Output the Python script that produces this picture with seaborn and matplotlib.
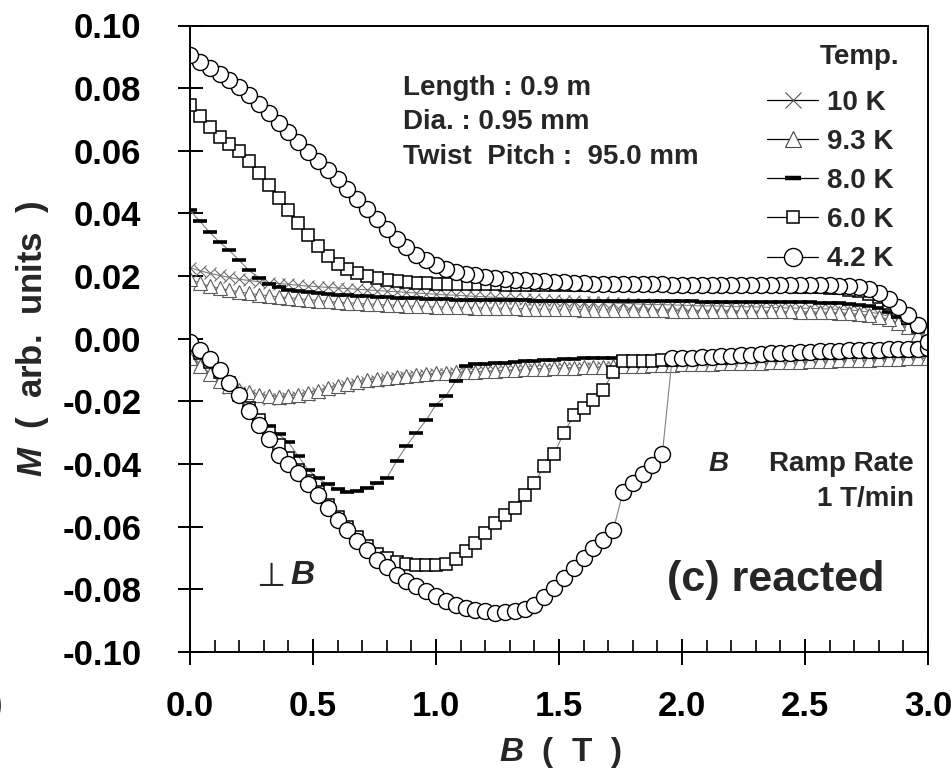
import numpy as np
import pandas as pd
import matplotlib
matplotlib.use("Agg")
import matplotlib.pyplot as plt
from matplotlib.lines import Line2D
from matplotlib.ticker import MultipleLocator
import seaborn as sns

# ---------------- data ----------------
B_T = [0.00, 0.04, 0.08, 0.12, 0.16, 0.20, 0.24, 0.28, 0.32, 0.36,
       0.40, 0.44, 0.48, 0.52, 0.56, 0.60, 0.64, 0.68, 0.72, 0.76,
       0.80, 0.84, 0.88, 0.92, 0.96, 1.00, 1.04, 1.08, 1.12, 1.16,
       1.20, 1.24, 1.28, 1.32, 1.36, 1.40, 1.44, 1.48, 1.52, 1.56,
       1.60, 1.64, 1.68, 1.72, 1.76, 1.80, 1.84, 1.88, 1.92, 1.96,
       2.00, 2.04, 2.08, 2.12, 2.16, 2.20, 2.24, 2.28, 2.32, 2.36,
       2.40, 2.44, 2.48, 2.52, 2.56, 2.60, 2.64, 2.68, 2.72, 2.76,
       2.80, 2.84, 2.88, 2.92, 2.96, 3.00]

# ramp up (0 -> 3 T), values at B_T
M10_up = [-0.005, -0.0082, -0.0112, -0.0137, -0.0156, -0.017, -0.018, -0.0187, -0.0191, -0.0192,
          -0.019, -0.0185, -0.0179, -0.0172, -0.0165, -0.0158, -0.0151, -0.0145, -0.0139, -0.0134,
          -0.0129, -0.0125, -0.0121, -0.0118, -0.0115, -0.0113, -0.0111, -0.0109, -0.0107, -0.0106,
          -0.0104, -0.0103, -0.0101, -0.01, -0.0099, -0.0097, -0.0096, -0.0095, -0.0094, -0.0094,
          -0.0093, -0.0092, -0.0091, -0.009, -0.009, -0.0089, -0.0088, -0.0087, -0.0087, -0.0086,
          -0.0085, -0.0084, -0.0084, -0.0083, -0.0082, -0.0081, -0.0081, -0.008, -0.0079, -0.0078,
          -0.0077, -0.0077, -0.0076, -0.0075, -0.0074, -0.0073, -0.0072, -0.0071, -0.007, -0.0069,
          -0.0068, -0.0067, -0.0066, -0.0065, -0.0064, -0.0062]
M93_up = [-0.006, -0.0088, -0.0114, -0.0136, -0.0152, -0.0163, -0.0171, -0.0178, -0.0183, -0.0186,
          -0.0184, -0.0179, -0.0173, -0.0166, -0.0158, -0.015, -0.0144, -0.0138, -0.0132, -0.0128,
          -0.0124, -0.0121, -0.0118, -0.0115, -0.0112, -0.011, -0.0108, -0.0107, -0.0106, -0.0105,
          -0.0104, -0.0102, -0.01, -0.0099, -0.0097, -0.0096, -0.0095, -0.0094, -0.0093, -0.0092,
          -0.0091, -0.009, -0.0089, -0.0088, -0.0087, -0.0087, -0.0086, -0.0085, -0.0084, -0.0083,
          -0.0082, -0.0081, -0.0081, -0.008, -0.0079, -0.0078, -0.0077, -0.0077, -0.0076, -0.0075,
          -0.0074, -0.0073, -0.0073, -0.0072, -0.0071, -0.007, -0.0069, -0.0069, -0.0068, -0.0067,
          -0.0066, -0.0065, -0.0064, -0.0063, -0.0062, -0.006]
M80_up = [-0.002, -0.0045, -0.0075, -0.0105, -0.014, -0.018, -0.022, -0.0255, -0.028, -0.0304,
          -0.033, -0.0375, -0.0418, -0.0445, -0.0465, -0.048, -0.0489, -0.0485, -0.0477, -0.0462,
          -0.0445, -0.039, -0.0342, -0.030, -0.026, -0.021, -0.0183, -0.0135, -0.0088, -0.0082,
          -0.008, -0.0078, -0.0076, -0.0074, -0.0072, -0.007, -0.0069, -0.0068, -0.0066, -0.0065,
          -0.0063, -0.0062, -0.0061, -0.006, -0.0059, -0.0058, -0.0058, -0.0057, -0.0057, -0.0056,
          -0.0056, -0.0056, -0.0055, -0.0055, -0.0054, -0.0054, -0.0053, -0.0053, -0.0052, -0.0052,
          -0.0051, -0.0051, -0.005, -0.005, -0.0049, -0.0048, -0.0047, -0.0046, -0.0046, -0.0045,
          -0.0044, -0.0043, -0.0042, -0.0042, -0.0041, -0.004]
M60_up = [-0.002, -0.0045, -0.0075, -0.0106, -0.014, -0.018, -0.022, -0.026, -0.030, -0.034,
          -0.038, -0.042, -0.0455, -0.049, -0.053, -0.057, -0.0602, -0.0634, -0.0662, -0.0686,
          -0.070, -0.0712, -0.0718, -0.0721, -0.0722, -0.0722, -0.0718, -0.0702, -0.0678, -0.0652,
          -0.062, -0.0588, -0.0562, -0.054, -0.050, -0.046, -0.0405, -0.0368, -0.030, -0.0245,
          -0.022, -0.0195, -0.0165, -0.0105, -0.0072, -0.007, -0.007, -0.007, -0.0069, -0.0068,
          -0.0066, -0.0065, -0.0063, -0.0061, -0.006, -0.0058, -0.0056, -0.0055, -0.0053, -0.0052,
          -0.005, -0.0049, -0.0048, -0.0047, -0.0046, -0.0045, -0.0044, -0.0043, -0.0043, -0.0042,
          -0.0041, -0.004, -0.0039, -0.0038, -0.0037, -0.0036]
M42_up = [-0.001, -0.0035, -0.0065, -0.010, -0.014, -0.018, -0.023, -0.0275, -0.032, -0.037,
          -0.040, -0.043, -0.0465, -0.050, -0.054, -0.058, -0.0612, -0.0645, -0.0675, -0.0705,
          -0.073, -0.0755, -0.0772, -0.0788, -0.0804, -0.082, -0.0836, -0.085, -0.086, -0.0866,
          -0.087, -0.0874, -0.0872, -0.0868, -0.0862, -0.085, -0.0826, -0.0796, -0.0764, -0.0732,
          -0.070, -0.0668, -0.0642, -0.0612, -0.049, -0.0462, -0.0432, -0.0402, -0.0368, -0.006,
          -0.0062, -0.006, -0.0059, -0.0057, -0.0056, -0.0054, -0.0052, -0.0051, -0.0049, -0.0047,
          -0.0046, -0.0044, -0.0043, -0.0041, -0.004, -0.0039, -0.0038, -0.0037, -0.0037, -0.0036,
          -0.0035, -0.0034, -0.0033, -0.0033, -0.0032, -0.003]

# ramp down (3 -> 0 T), values listed at B_T (ascending B)
M10_down = [0.0227, 0.0217, 0.0209, 0.0202, 0.0196, 0.019, 0.0186, 0.0182, 0.0179, 0.0176,
            0.0174, 0.0171, 0.0168, 0.0166, 0.0164, 0.0162, 0.016, 0.0158, 0.0156, 0.0154,
            0.0152, 0.015, 0.0148, 0.0146, 0.0144, 0.0142, 0.014, 0.0139, 0.0137, 0.0135,
            0.0134, 0.0132, 0.0131, 0.0129, 0.0127, 0.0126, 0.0124, 0.0123, 0.0122, 0.012,
            0.0118, 0.0117, 0.0116, 0.0114, 0.0113, 0.0112, 0.011, 0.0109, 0.0109, 0.0108,
            0.0107, 0.0106, 0.0105, 0.0105, 0.0104, 0.0103, 0.0102, 0.0102, 0.0101, 0.01,
            0.0099, 0.0098, 0.0098, 0.0097, 0.0096, 0.0095, 0.0094, 0.0092, 0.0089, 0.0085,
            0.008, 0.0072, 0.006, 0.0043, 0.0018, -0.003]
M93_down = [0.019, 0.0178, 0.0168, 0.0161, 0.0155, 0.015, 0.0145, 0.0141, 0.0137, 0.0134,
            0.0131, 0.0128, 0.0125, 0.0122, 0.0119, 0.0117, 0.0115, 0.0113, 0.0111, 0.011,
            0.0108, 0.0107, 0.0105, 0.0104, 0.0103, 0.0102, 0.0101, 0.01, 0.01, 0.0099,
            0.0098, 0.0098, 0.0097, 0.0097, 0.0096, 0.0095, 0.0095, 0.0094, 0.0094, 0.0094,
            0.0093, 0.0093, 0.0092, 0.0092, 0.0092, 0.0092, 0.0091, 0.0091, 0.0091, 0.009,
            0.009, 0.009, 0.009, 0.0089, 0.0089, 0.0089, 0.0089, 0.0088, 0.0088, 0.0088,
            0.0087, 0.0087, 0.0086, 0.0086, 0.0085, 0.0084, 0.0083, 0.0081, 0.0079, 0.0075,
            0.007, 0.0062, 0.005, 0.0036, 0.0014, -0.003]
M80_down = [0.041, 0.0375, 0.034, 0.0308, 0.0282, 0.025, 0.0218, 0.0195, 0.0176, 0.0164,
            0.0157, 0.0152, 0.0148, 0.0146, 0.0143, 0.0141, 0.0139, 0.0137, 0.0135, 0.0134,
            0.0132, 0.013, 0.0129, 0.0129, 0.0128, 0.0127, 0.0126, 0.0125, 0.0125, 0.0125,
            0.0124, 0.0124, 0.0123, 0.0123, 0.0123, 0.0122, 0.0122, 0.0122, 0.0122, 0.0121,
            0.0121, 0.0121, 0.012, 0.012, 0.012, 0.012, 0.012, 0.0119, 0.0119, 0.0119,
            0.0119, 0.0119, 0.0118, 0.0118, 0.0118, 0.0118, 0.0118, 0.0117, 0.0117, 0.0117,
            0.0117, 0.0116, 0.0116, 0.0116, 0.0115, 0.0114, 0.0113, 0.0111, 0.0109, 0.0104,
            0.0097, 0.0086, 0.0071, 0.0051, 0.0027, -0.0025]
M60_down = [0.0745, 0.071, 0.0675, 0.0645, 0.0622, 0.060, 0.0568, 0.053, 0.049, 0.045,
            0.041, 0.037, 0.033, 0.0295, 0.0265, 0.024, 0.0224, 0.0211, 0.020, 0.0193,
            0.0188, 0.0184, 0.0181, 0.0179, 0.0178, 0.0176, 0.0175, 0.0175, 0.0175, 0.0174,
            0.0174, 0.0174, 0.0173, 0.0173, 0.0173, 0.0173, 0.0173, 0.0172, 0.0172, 0.0172,
            0.0172, 0.0172, 0.0171, 0.0171, 0.0171, 0.0171, 0.0171, 0.017, 0.017, 0.017,
            0.017, 0.017, 0.017, 0.0169, 0.0169, 0.0169, 0.0169, 0.0168, 0.0168, 0.0168,
            0.0167, 0.0167, 0.0166, 0.0166, 0.0165, 0.0163, 0.0161, 0.0157, 0.0152, 0.0144,
            0.0133, 0.0115, 0.0092, 0.0066, 0.0036, -0.0015]
M42_down = [0.0905, 0.0885, 0.0865, 0.0845, 0.0825, 0.0805, 0.0777, 0.0749, 0.0721, 0.0688,
            0.066, 0.0628, 0.0596, 0.0566, 0.0538, 0.051, 0.0478, 0.0446, 0.0414, 0.0382,
            0.035, 0.0318, 0.0292, 0.0268, 0.0251, 0.0235, 0.0223, 0.0214, 0.0207, 0.0202,
            0.0197, 0.0194, 0.0191, 0.0189, 0.0187, 0.0185, 0.0183, 0.0182, 0.018, 0.0179,
            0.0177, 0.0176, 0.0175, 0.0175, 0.0175, 0.0174, 0.0174, 0.0174, 0.0174, 0.0173,
            0.0173, 0.0173, 0.0173, 0.0173, 0.0173, 0.0173, 0.0173, 0.0173, 0.0172, 0.0172,
            0.0172, 0.0172, 0.0171, 0.0171, 0.0171, 0.017, 0.0169, 0.0167, 0.0164, 0.0158,
            0.0145, 0.0126, 0.0102, 0.0076, 0.0045, -0.001]

temp_labels = ["10 K", "9.3 K", "8.0 K", "6.0 K", "4.2 K"]
x_ticks = [0.0, 0.5, 1.0, 1.5, 2.0, 2.5, 3.0]
x_ticklabels = ["0.0", "0.5", "1.0", "1.5", "2.0", "2.5", "3.0"]
y_ticks = [0.10, 0.08, 0.06, 0.04, 0.02, 0.00, -0.02, -0.04, -0.06, -0.08, -0.10]
y_ticklabels = ["0.10", "0.08", "0.06", "0.04", "0.02", "0.00",
                "-0.02", "-0.04", "-0.06", "-0.08", "-0.10"]

# ---------------- style ----------------
sns.set_style("white")
plt.rcParams["font.family"] = ["Liberation Sans", "DejaVu Sans"]
plt.rcParams["font.weight"] = "bold"
plt.rcParams["mathtext.fontset"] = "custom"
plt.rcParams["mathtext.it"] = "Liberation Sans:italic:bold"
plt.rcParams["mathtext.rm"] = "Liberation Sans:bold"
plt.rcParams["mathtext.bf"] = "Liberation Sans:bold"

W, H = 951, 773
fig = plt.figure(figsize=(W / 100, H / 100), dpi=100)
L, R, T, Bt = 190, 928, 25.5, 652
ax = fig.add_axes([L / W, 1 - Bt / H, (R - L) / W, (Bt - T) / H])

def fx(px):
    return px / W

def fy(py):
    return 1 - py / H

# ---------------- series ----------------
series = [
    (temp_labels[0], M10_up, M10_down, dict(marker="x", markersize=9, markeredgecolor="#6e6e6e",
                                             markeredgewidth=0.8, markerfacecolor="none")),
    (temp_labels[1], M93_up, M93_down, dict(marker="^", markersize=9.5, markeredgecolor="#5a5a5a",
                                             markeredgewidth=0.8, markerfacecolor="white")),
    (temp_labels[2], M80_up, M80_down, dict(marker="_", markersize=10.5, markeredgecolor="black",
                                             markeredgewidth=2.6)),
    (temp_labels[3], M60_up, M60_down, dict(marker="s", markersize=8, markeredgecolor="black",
                                             markeredgewidth=1.1, markerfacecolor="white")),
    (temp_labels[4], M42_up, M42_down, dict(marker="o", markersize=11.5, markeredgecolor="black",
                                             markeredgewidth=1.0, markerfacecolor="white")),
]

for lab, up, down, mk in series:
    bx = list(B_T) + list(B_T[::-1])
    my = list(up) + list(down[::-1])
    df = pd.DataFrame({"B": bx, "M": my})
    sns.lineplot(data=df, x="B", y="M", sort=False, estimator=None, ax=ax,
                 color="#808080", linewidth=0.8, legend=False, **mk)

# ---------------- axes ----------------
ax.set_xlim(0, 3.0)
ax.set_ylim(-0.10, 0.10)
ax.set_xticks(x_ticks)
ax.set_xticklabels(x_ticklabels)
ax.set_yticks(y_ticks)
ax.set_yticklabels(y_ticklabels)
ax.xaxis.set_minor_locator(MultipleLocator(0.1))
for sp in ax.spines.values():
    sp.set_visible(True)
    sp.set_color("black")
    sp.set_linewidth(1.4)
ax.tick_params(axis="x", which="major", direction="inout", length=19, width=1.4,
               colors="black", pad=18, labelsize=25, bottom=True, top=False)
ax.tick_params(axis="x", which="minor", direction="in", length=9, width=1.2,
               colors="black", bottom=True, top=False)
ax.tick_params(axis="y", which="major", direction="inout", length=18, width=1.4,
               colors="black", pad=26, labelsize=25, left=True, right=False)
for t in ax.get_xticklabels() + ax.get_yticklabels():
    t.set_fontweight("bold")
ax.set_xlabel("")
ax.set_ylabel("")

# axis titles
fig.text(fx(560), fy(752), r"$B$  (  T  )", ha="center", va="center", fontsize=24, fontweight="bold")
fig.text(fx(33), fy(339), r"$M$  (  arb.  units  )", ha="center", va="center", rotation=90,
         fontsize=25, fontweight="bold")

# annotations
fig.text(fx(403), fy(88), "Length : 0.9 m", ha="left", va="center", fontsize=20, fontweight="bold")
fig.text(fx(403), fy(122), "Dia. : 0.95 mm", ha="left", va="center", fontsize=20, fontweight="bold")
fig.text(fx(403), fy(157), "Twist  Pitch :  95.0 mm", ha="left", va="center", fontsize=20,
         fontweight="bold")
fig.text(fx(708), fy(464), r"$B$", ha="left", va="center", fontsize=20, fontweight="bold")
fig.text(fx(914), fy(464), "Ramp Rate", ha="right", va="center", fontsize=20, fontweight="bold")
fig.text(fx(914), fy(499), "1 T/min", ha="right", va="center", fontsize=20, fontweight="bold")
fig.text(fx(667), fy(580), "(c) reacted", ha="left", va="center", fontsize=31, fontweight="bold")
fig.text(fx(256), fy(576), "\u22a5", ha="left", va="center", fontsize=24, family=["DejaVu Sans"],
         fontweight="normal")
fig.text(fx(290), fy(576), r"$B$", ha="left", va="center", fontsize=24, fontweight="bold")
fig.text(fx(-9), fy(706), ")", ha="left", va="center", fontsize=25, fontweight="bold")

# legend
fig.text(fx(860), fy(57), "Temp.", ha="center", va="center", fontsize=20, fontweight="bold")
handles = [
    Line2D([], [], color="black", lw=0.9, marker="x", ms=12, mec="#555555", mew=0.8),
    Line2D([], [], color="black", lw=0.9, marker="^", ms=11, mec="#444444", mfc="white", mew=0.8),
    Line2D([], [], color="black", lw=0.9, marker="_", ms=12, mec="black", mew=3.2),
    Line2D([], [], color="black", lw=0.9, marker="s", ms=9, mec="black", mfc="white", mew=1.1),
    Line2D([], [], color="black", lw=0.9, marker="o", ms=13, mec="black", mfc="white", mew=1.0),
]
leg = ax.legend(handles, temp_labels, loc="upper left",
                bbox_to_anchor=(fx(767), fy(90)), bbox_transform=fig.transFigure,
                frameon=False, borderpad=0, borderaxespad=0, handlelength=1.85,
                handletextpad=0.32, labelspacing=0.47,
                prop={"family": "Liberation Sans", "weight": "bold", "size": 20})

fig.savefig("out.png", dpi=100)
